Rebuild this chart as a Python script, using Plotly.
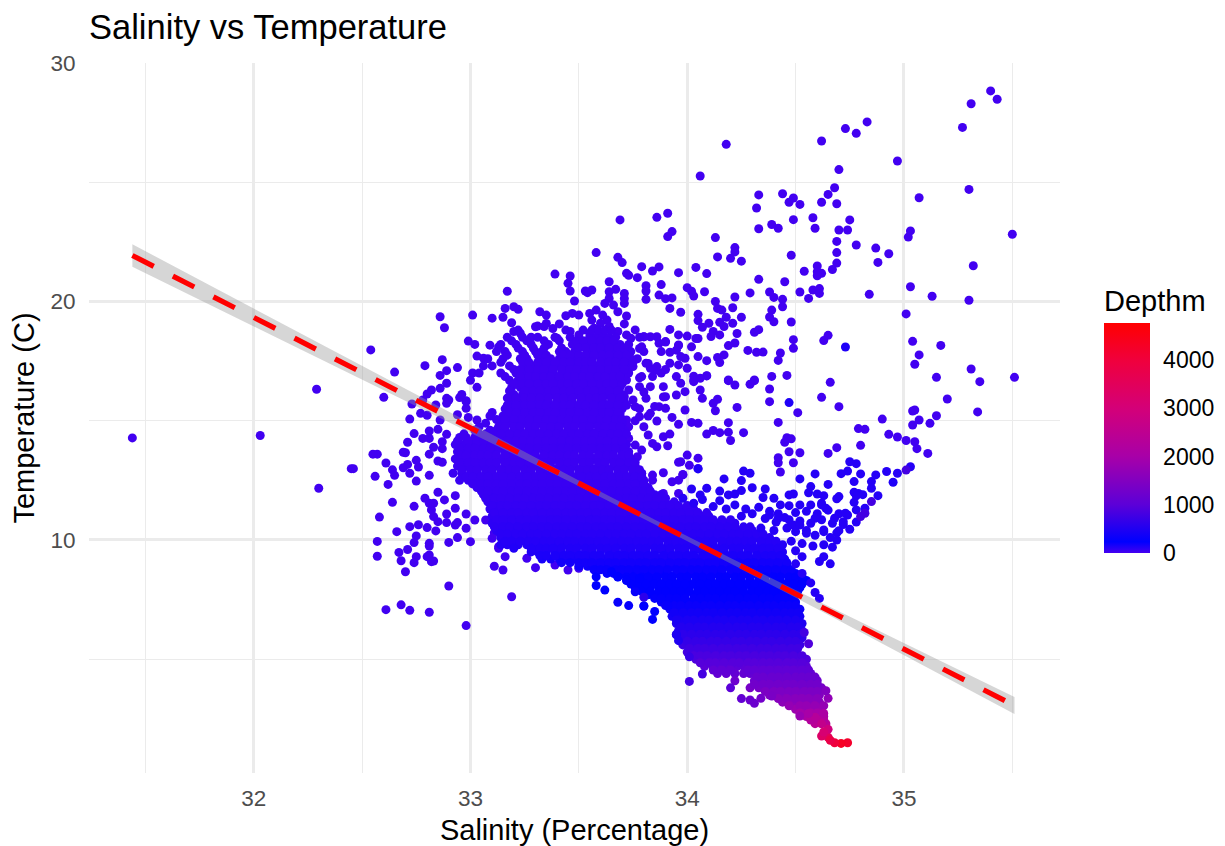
import plotly.graph_objects as go

TITLE = "Salinity vs Temperature"
X_TITLE = "Salinity (Percentage)"
Y_TITLE = "Temperature (C)"
CB_TITLE = "Depthm"
depth_ticks = [0, 1000, 2000, 3000, 4000]
depth_max = 4770

# scattered warm surface points (salinity, temperature)
warm_points = [
(34.18,26.59),(34.06,25.26),(34.62,26.73),(34.73,27.25),(34.78,27.05),(34.83,27.53),(35.40,28.83),(35.43,28.48),(35.31,28.29),(35.27,27.30),
(34.97,25.89),(34.70,25.53),(35.30,24.70),(35.07,24.35),(35.50,22.82),(34.68,24.77),(34.65,24.49),(34.62,24.16),(34.69,24.10),(34.33,24.47),
(34.32,23.92),(34.44,24.52),(34.49,24.34),(34.47,24.16),(34.52,24.07),(34.49,23.43),(34.58,23.51),(34.59,23.07),(34.33,23.05),(34.39,23.23),
(34.42,23.07),(34.75,23.42),(34.70,23.0),(34.74,23.0),(34.69,22.52),(34.78,22.37),(34.69,22.05),(34.69,21.61),(34.67,21.34),(34.87,22.24),
(34.93,22.0),(34.88,21.64),(35.03,22.96),(35.02,22.70),(35.32,21.50),(34.48,21.94),(34.13,22.68),(34.14,21.87),(34.22,22.26),(34.22,22.08),
(34.20,21.81),(34.25,21.69),(33.86,23.53),(33.91,23.70),(33.93,22.93),(33.91,22.72),(33.79,21.46),(33.84,21.28),(33.87,21.45),(33.96,21.21),
(34.04,21.43),(34.09,21.17),(34.60,21.49),(34.60,21.25),(34.62,21.18),(34.60,21.08),(34.54,21.27),(34.33,20.93),(34.45,20.83),(35.03,20.62),
(35.13,20.22),(35.30,20.05),(34.84,20.30),(34.52,20.40),(34.58,20.48),(34.61,20.54),(34.61,20.34),(34.56,20.13),(34.29,20.36),(34.38,20.40),
(34.40,20.17),(34.44,20.09),(34.44,19.78),(34.39,19.64),(34.38,19.35),(34.40,19.15),(34.48,19.14),(35.01,19.48),(34.22,20.19),(34.21,19.74),
(34.25,19.34),(34.13,20.0),(34.14,19.71),(34.16,19.64),(34.18,19.34),(34.21,19.09),(34.17,18.95),(34.15,19.13),(34.10,19.09),(34.07,18.92),
(34.05,19.46),(34.05,19.2),(33.97,19.55),(33.92,19.71),(33.88,20.71),(33.81,20.66),(33.81,20.44),(33.81,20.09),(33.87,20.27),(33.90,20.12),
(33.93,20.15),(34.0,20.58),(34.02,20.43),(34.03,20.23),(34.08,20.41),(33.92,18.83),(34.31,18.71),(34.33,18.82),(34.23,18.66),(34.49,18.40),
(34.49,18.04),(34.63,18.36),(34.65,18.58),(35.04,18.33),(35.17,18.16),(35.07,17.76),(35.05,17.37),(35.31,17.17),(35.15,16.82),(35.51,16.82),
(35.35,16.64),(34.46,16.9),(34.39,16.86),(34.31,16.71),(34.19,16.71),(34.28,17.95),(34.32,17.87),(34.35,17.88),(34.43,17.84),(34.42,17.53),
(34.22,18.26),(34.19,18.15),(34.17,17.76),(34.14,17.65),(34.15,17.44),(34.09,17.52),(34.15,18.6),(34.12,18.74),(34.11,18.53),(34.05,18.45),
(34.0,18.55),(33.96,18.6),(34.02,18.1),(33.96,18.15),(33.92,17.87),(33.88,17.9),(34.05,17.69),(33.99,17.62),(33.96,17.34),(34.0,17.2),
(33.87,18.25),(33.90,18.32),(33.86,18.52),(33.83,18.52),(33.80,18.52),(33.79,18.1),(34.03,16.87),(34.09,16.89),(33.85,17.1),(33.88,17.0),
(33.9,17.15),(33.83,17.2),(33.69,23.42),(33.58,22.05),(33.68,21.85),(33.70,21.63),(33.39,21.15),(33.46,21.07),(33.45,20.76),(33.46,20.44),
(33.17,20.43),(33.53,20.44),(33.54,20.37),(33.56,20.48),(33.64,20.83),(33.67,20.51),(33.64,20.41),(33.64,20.13),(33.62,19.92),(33.66,19.85),
(33.68,19.57),(33.71,20.34),(33.71,20.13),(33.71,19.92),(33.72,21.18),(33.73,21.1),(33.77,21.0),(33.48,20.02),(33.32,19.57),(33.35,19.43),
(33.2,19.78),(33.22,19.67),(33.16,19.71),(33.1,19.3),(33.15,19.34),(33.19,19.11),(33.31,18.97),(33.34,18.95),(33.38,18.87),(33.41,19.06),
(33.44,19.4),(33.47,19.5),(33.5,19.43),(33.58,19.64),(33.55,19.5),(33.61,19.43),(33.63,19.22),(33.56,19.22),(33.6,19.09),(33.55,18.67),
(33.6,18.67),(33.64,18.95),(33.57,18.88),(33.72,19.39),(33.71,19.06),(33.68,18.74),(33.66,18.39),(33.76,18.81),(33.72,18.6),(33.74,18.46),
(33.2,18.74),(33.23,18.67),(33.28,18.5),(33.4,18.46),(33.46,18.74),(33.5,18.6),(33.8,18.52),(33.9,18.3),(33.96,18.18),(34.04,18.45),
(33.01,19.43),(32.88,18.9),(32.86,19.36),(33.3,18.94),(33.35,19.08),(33.09,18.17),(33.13,18.1),(33.06,17.62),(33.03,17.71),(33.78,18.03),
(33.95,17.96),(33.97,17.69),(32.99,18.34),(33.02,18.2),
]

# scattered points of the mid-temperature cloud
mid_points = [
(34.09,16.88),(34.06,16.78),(34.03,16.64),(34.06,16.29),(34.07,15.94),(34.14,15.9),(34.12,15.73),(34.13,15.42),(34.23,15.56),(34.19,16.68),
(34.22,16.5),(34.29,16.53),(34.31,16.68),(34.38,16.33),(34.38,15.8),(34.51,15.34),(34.66,16.61),(34.62,15.98),(34.70,15.59),(33.99,15.45),
(34.02,14.93),(34.05,14.89),(34.19,14.92),(34.09,14.44),(34.12,14.59),(34.15,14.5),(34.19,14.52),(34.20,14.17),(34.26,14.5),(34.42,14.93),
(34.46,14.29),(34.48,14.24),(34.45,14.1),(34.47,13.7),(34.52,13.66),(34.42,13.45),(34.42,13.24),(34.49,13.24),(34.43,12.85),(34.90,15.07),
(34.79,14.67),(34.82,14.64),(34.80,13.97),(34.69,13.87),(34.65,13.63),(34.93,14.43),(34.97,14.32),(35.01,14.17),(35.05,14.12),(35.06,13.83),
(35.11,13.63),(35.04,15.41),(35.05,15.45),(35.07,15.03),(35.04,14.82),(35.12,14.89),(35.15,15.21),(35.34,15.37),(35.20,15.91),
(34.0,13.56),(34.01,13.13),(33.97,13.28),(34.05,13.43),(33.98,12.73),
(32.54,17.97),(32.65,17.04),(32.60,15.98),(32.45,12.99),(32.79,17.31),(32.87,17.56),(32.94,17.23),(32.89,17.1),(32.86,16.9),(32.89,16.57),
(32.86,16.36),(32.82,16.29),(32.80,16.12),(32.78,15.87),(32.73,15.7),(32.84,15.66),(32.89,15.94),(32.90,15.87),(32.89,15.73),(32.95,15.97),
(32.98,15.84),(32.98,15.52),(32.77,15.31),(32.80,15.23),(32.72,15.07),(32.86,15.03),(32.94,15.25),(32.99,15.14),(33.03,15.03),(32.74,14.46),
(32.85,14.64),(32.81,14.57),(32.78,14.26),(32.81,14.26),(32.89,14.43),(32.71,14.1),(32.87,14.12),(32.83,13.89),(32.87,13.83),(32.69,13.68),
(32.70,13.66),(32.57,13.6),(32.81,13.6),(32.85,13.31),(32.87,13.26),(32.61,13.23),(32.75,13.34),(32.71,13.17),(32.76,13.06),(32.69,13.03),
(32.64,12.94),(32.65,12.71),(32.72,12.8),(32.56,12.67),(32.75,12.47),(32.81,12.71),(32.62,12.33),(32.64,11.58),(32.74,11.41),(32.79,11.75),
(32.58,10.96),(32.66,10.35),(32.72,10.56),(32.76,10.64),(32.57,9.94),(32.57,9.32),(32.75,10.17),(32.74,9.89),(32.71,9.6),(32.67,9.48),
(32.68,9.13),(32.70,8.67),(32.75,9.3),(32.74,9.05),(32.80,9.3),(32.81,9.37),(32.82,9.09),(32.83,9.12),(32.81,9.86),(32.81,9.75),
(32.90,8.07),(32.61,7.08),(32.68,7.28),(32.72,7.05),(32.81,6.97),(32.98,6.41),(32.90,9.9),(32.94,10.1),(33.0,9.93),(32.98,10.49),
(32.80,10.52),(32.84,10.38),(32.89,11.09),(32.82,11.26),(32.81,11.54),(32.83,11.54),(32.83,10.98),(32.85,10.77),(32.89,10.73),(32.93,10.63),
(32.94,10.73),(32.98,11.09),(33.02,10.84),(33.07,10.84),(32.93,11.33),(32.93,11.86),(32.88,11.68),(32.85,12.0),(33.1,10.07),(33.11,10.3),
(33.11,8.9),(33.13,9.65),(33.13,9.72),(33.16,9.3),(33.15,8.74),(33.19,7.62),(33.26,9.23),(33.3,8.84),(33.39,8.95),(33.45,8.74),
(33.5,8.81),(31.44,14.28),(32.03,14.38),(32.30,12.17),(32.29,16.32),(32.55,13.6),(32.46,12.99),
(33.82,14.4),(33.84,14.05),(33.86,13.91),(33.89,14.33),(33.92,14.44),(33.91,13.95),(33.96,13.26),(33.98,12.75),(34.05,13.0),(33.93,12.44),
(33.89,12.82),(33.84,12.72),(33.76,13.98),(33.79,13.77),(33.77,13.49),(33.73,14.26),(33.86,14.99),(33.93,15.14),(33.96,14.85),(33.9,15.52),
(33.9,16.01),(33.89,16.43),(33.95,16.85),(33.97,16.57),(33.99,16.22),(34.03,16.71),(33.85,15.6),(33.82,15.2),(33.8,16.2),(33.78,16.8),
(33.82,17.4),(33.78,15.5),(33.76,15.0),(33.8,14.75),
(33.81,17.41),(33.86,17.27),(33.92,17.41),(33.75,17.27),(33.79,16.85),(33.84,16.85),(33.73,16.29),(33.78,16.43),(33.83,16.43),(33.89,16.0),
(33.95,16.08),(33.75,15.87),(33.81,15.94),(33.87,15.59),(33.72,16.71),(33.71,16.01),(33.69,15.31),(33.72,15.03),(33.69,14.61),(33.73,14.75),
(33.78,15.17),(33.76,15.59),(33.83,15.31),(33.84,12.51),(33.79,12.79),(33.74,13.07),(33.79,12.23),(33.89,11.95),(33.96,11.95),(33.96,12.51),
]

# blue wing on the right side of the cloud
wing_points = [
(34.52,12.56),(34.59,12.77),(34.75,13.28),(34.78,13.2),(34.74,12.89),(34.71,12.78),(34.80,12.77),(34.92,12.87),(34.97,12.8),(35.03,13.07),
(34.87,12.73),(34.85,12.45),(34.77,12.45),(34.65,12.33),(34.57,12.24),(34.85,12.17),(34.88,11.86),(34.82,11.33),(34.77,11.58),(34.78,11.26),
(34.77,12.0),(34.79,11.95),(34.81,11.9),(34.78,11.85),(34.70,11.82),(34.69,11.73),(34.63,11.86),(34.60,11.93),(34.56,11.98),(34.49,11.93),
(34.47,11.89),(34.40,11.75),(34.36,12.14),(34.35,11.78),(34.30,12.19),(34.25,12.49),(34.26,12.89),(34.29,12.8),(34.25,12.07),(34.17,12.56),
(34.09,12.17),(34.02,12.14),(34.15,12.05),(34.06,11.89),(34.19,11.89),(34.22,11.93),(34.15,11.65),(34.22,11.47),(34.43,11.47),(34.47,11.44),
(34.33,11.37),(34.52,11.47),(34.57,11.47),(34.62,11.54),(33.98,11.75),(34.03,11.54),(34.07,11.7),(34.12,11.4),(34.18,11.3),(34.27,11.3),
(34.38,11.2),(34.42,11.1),(34.3,11.1),(34.25,11.0),(34.5,11.15),(34.55,11.2),(34.6,11.1),(34.65,11.25),(34.7,11.1),(34.74,11.05),
(34.36,10.9),(34.41,10.75),(34.47,10.85),(34.52,10.8),(34.57,10.7),(34.62,10.85),(34.67,10.7),(34.72,10.65),(34.78,10.75),(34.34,10.5),
(34.4,10.4),(34.46,10.5),(34.5,10.35),(34.55,10.4),(34.59,10.2),(34.63,10.35),(34.69,10.3),(34.75,10.45),(34.48,9.95),(34.53,9.85),
(34.58,9.75),(34.63,9.8),(34.67,9.7),(34.69,10.0),(34.66,10.1),(34.5,9.55),(34.53,9.3),(34.61,9.1),(34.63,9.3),(34.66,9.0),
(34.5,9.0),(34.53,8.6),(34.57,8.2),(34.59,7.8),(34.61,7.55),
(34.38,11.05),(34.42,10.91),(34.45,10.94),(34.49,10.63),(34.52,10.63),(34.55,10.28),(34.59,10.91),(34.62,11.47),(34.64,11.33),(34.68,10.91),
(34.72,10.77),(34.73,11.12),(34.63,10.42),(34.70,10.39),
]

# odd deeper or bluer single points (salinity, temperature)
bluer_points = [(34.47,15.76),(34.73,18.09),(34.05,12.98),(34.95,12.42)]
purple_points = [(35.01,12.93),(34.85,11.61),(34.82,11.12),(34.80,10.98)]

# lower edge of the cloud (salinity, temperature, depth)
edge_points = [
(33.58,8.46,230),(33.58,8.09,240),(33.62,7.9,240),(33.68,7.39,300),(33.73,7.25,280),(33.8,7.23,320),(33.84,6.67,240),(33.8,7.6,600),(33.76,7.83,300),
(33.65,8.67,240),(33.68,8.46,240),(33.72,8.32,240),(33.78,8.39,240),(33.91,7.25,300),(33.95,6.02,500),(33.95,6.65,450),(33.85,7.0,240),(33.8,7.23,240),
(34.01,4.07,800),(34.07,4.38,800),(34.01,5.1,700),(34.2,3.8,1000),(34.25,3.35,1100),(34.29,3.29,1200),(34.31,3.15,1200),(34.34,3.36,1300),(34.39,3.46,1400),
(34.52,2.62,1800),(34.65,3.36,1700),(34.64,3.68,1500),(34.56,5.65,900),(34.54,6.12,800),(33.96,5.78,500),(33.95,6.05,480),
(34.74,1.5,4200),(34.71,1.47,4300),(34.68,1.5,4000),(34.65,1.73,3500),(34.62,1.78,3300),(34.65,2.06,2900),(34.62,2.29,2600),(34.59,2.57,2300),(34.63,2.73,2100),(34.56,2.73,2000),
(34.66,1.6,3800),(34.63,1.95,3100),
]

# dense body of the cloud: (temperature, depth, salinities along that band)
body_rows = [
(18.5,20,[33.17,33.24,33.31,33.39,33.46,33.55,33.58,33.61,33.64,33.67,33.78]),
(18.2,20,[33.14,33.21,33.28,33.36,33.47,33.51,33.54,33.58,33.62,33.65,33.69,33.73]),
(17.9,20,[33.12,33.16,33.24,33.3,33.33,33.41,33.44,33.48,33.55,33.59,33.62,33.66,33.7,33.74,33.8]),
(17.6,20,[33.08,33.15,33.23,33.26,33.34,33.37,33.41,33.45,33.48,33.52,33.56,33.6,33.63,33.67,33.7,33.74,33.77]),
(17.3,20,[33.06,33.1,33.18,33.25,33.29,33.33,33.36,33.4,33.44,33.47,33.51,33.54,33.58,33.62,33.65,33.69,33.72]),
(17.0,20,[33.01,33.04,33.14,33.21,33.24,33.28,33.31,33.35,33.38,33.42,33.45,33.49,33.52,33.56,33.59,33.63,33.66,33.7,33.73]),
(16.7,22,[33.0,33.18,33.22,33.25,33.29,33.32,33.36,33.4,33.43,33.47,33.5,33.54,33.57,33.61,33.64,33.68,33.71]),
(16.4,22,[33.03,33.19,33.23,33.27,33.3,33.34,33.37,33.41,33.44,33.48,33.51,33.55,33.59,33.62,33.66,33.69]),
(16.1,22,[32.96,33.2,33.24,33.27,33.31,33.35,33.38,33.42,33.45,33.49,33.53,33.56,33.6,33.63,33.67,33.7]),
(15.8,25,[32.98,33.18,33.22,33.26,33.29,33.33,33.36,33.4,33.44,33.47,33.51,33.54,33.58,33.61,33.65,33.68,33.71]),
(15.5,25,[33.16,33.19,33.23,33.27,33.3,33.34,33.38,33.41,33.45,33.48,33.52,33.56,33.59,33.63,33.66,33.7]),
(15.2,25,[33.09,33.15,33.19,33.22,33.26,33.3,33.33,33.37,33.4,33.44,33.47,33.51,33.55,33.58,33.62,33.65,33.69]),
(14.9,25,[33.07,33.14,33.18,33.21,33.25,33.29,33.32,33.36,33.39,33.43,33.46,33.5,33.54,33.57,33.61,33.64,33.68,33.7]),
(14.6,25,[33.02,33.09,33.12,33.16,33.2,33.23,33.27,33.3,33.34,33.38,33.41,33.45,33.48,33.52,33.55,33.59,33.63,33.66,33.71]),
(14.3,28,[32.95,32.98,33.02,33.06,33.09,33.13,33.16,33.2,33.24,33.27,33.31,33.34,33.38,33.41,33.45,33.49,33.52,33.56,33.59,33.63,33.66,33.7]),
(14.0,30,[32.93,32.97,33.0,33.04,33.07,33.11,33.15,33.18,33.22,33.25,33.29,33.32,33.36,33.4,33.43,33.47,33.5,33.54,33.58,33.61,33.65,33.68,33.72]),
(13.7,30,[32.94,32.98,33.01,33.05,33.09,33.12,33.16,33.19,33.23,33.27,33.3,33.34,33.37,33.41,33.44,33.48,33.52,33.55,33.59,33.62,33.66,33.7,33.73]),
(13.4,32,[32.93,32.96,33.0,33.03,33.07,33.1,33.14,33.18,33.21,33.25,33.28,33.32,33.36,33.39,33.43,33.46,33.5,33.53,33.57,33.61,33.64,33.68,33.71,33.74]),
(13.1,35,[32.94,32.98,33.01,33.05,33.09,33.12,33.16,33.19,33.23,33.26,33.3,33.34,33.37,33.41,33.44,33.48,33.52,33.55,33.59,33.62,33.66,33.7,33.73,33.76]),
(12.8,38,[32.92,32.96,33.0,33.03,33.07,33.1,33.14,33.17,33.21,33.25,33.28,33.32,33.35,33.39,33.43,33.46,33.5,33.53,33.57,33.6,33.64,33.68,33.71,33.75,33.79]),
(12.5,42,[32.95,32.99,33.02,33.06,33.09,33.13,33.16,33.2,33.24,33.27,33.31,33.34,33.38,33.42,33.45,33.49,33.52,33.56,33.59,33.63,33.67,33.7,33.74,33.77,33.8]),
(12.2,45,[33.03,33.07,33.1,33.14,33.17,33.21,33.25,33.28,33.32,33.35,33.39,33.42,33.46,33.5,33.53,33.57,33.6,33.64,33.68,33.71,33.75,33.78,33.82]),
(11.9,50,[33.06,33.09,33.13,33.16,33.2,33.24,33.27,33.31,33.34,33.38,33.42,33.45,33.49,33.52,33.56,33.59,33.63,33.67,33.7,33.74,33.77,33.81,33.85,33.88]),
(11.6,55,[33.08,33.12,33.15,33.19,33.22,33.26,33.3,33.33,33.37,33.4,33.44,33.47,33.51,33.55,33.58,33.62,33.65,33.69,33.73,33.76,33.8,33.83,33.87,33.9,33.94]),
(11.3,60,[33.09,33.13,33.17,33.2,33.24,33.27,33.31,33.34,33.38,33.42,33.45,33.49,33.52,33.56,33.6,33.63,33.67,33.7,33.74,33.77,33.81,33.85,33.88,33.92,33.95,33.99,34.03]),
(11.0,70,[33.1,33.14,33.17,33.21,33.25,33.28,33.32,33.35,33.39,33.42,33.46,33.5,33.53,33.57,33.6,33.64,33.67,33.71,33.75,33.78,33.82,33.85,33.89,33.93,33.96,34.0,34.03,34.07,34.1]),
(10.7,80,[33.1,33.13,33.17,33.2,33.24,33.28,33.31,33.35,33.38,33.42,33.45,33.49,33.53,33.56,33.6,33.63,33.67,33.71,33.74,33.78,33.81,33.85,33.88,33.92,33.96,33.99,34.03,34.06,34.1,34.14,34.18,34.22]),
(10.4,90,[33.12,33.16,33.19,33.23,33.26,33.3,33.34,33.37,33.41,33.44,33.48,33.51,33.55,33.59,33.62,33.66,33.69,33.73,33.77,33.8,33.84,33.87,33.91,33.94,33.98,34.02,34.05,34.09,34.12,34.16,34.2,34.23,34.27,34.3]),
(10.1,100,[33.14,33.18,33.21,33.25,33.28,33.32,33.36,33.39,33.43,33.46,33.5,33.53,33.57,33.61,33.64,33.68,33.71,33.75,33.78,33.82,33.86,33.89,33.93,33.96,34.0,34.04,34.07,34.11,34.14,34.18,34.21,34.25,34.29,34.32,34.35,34.38]),
(9.8,115,[33.14,33.17,33.22,33.26,33.3,33.33,33.37,33.4,33.44,33.48,33.51,33.55,33.58,33.62,33.65,33.69,33.73,33.76,33.8,33.83,33.87,33.91,33.94,33.98,34.01,34.05,34.08,34.12,34.16,34.19,34.23,34.26,34.3,34.34,34.37,34.41,34.44]),
(9.5,130,[33.28,33.31,33.35,33.39,33.42,33.46,33.49,33.53,33.56,33.6,33.64,33.67,33.71,33.74,33.78,33.81,33.85,33.89,33.92,33.96,33.99,34.03,34.07,34.1,34.14,34.17,34.21,34.24,34.28,34.32,34.35,34.39,34.42,34.44]),
(9.2,155,[33.33,33.37,33.41,33.44,33.48,33.51,33.55,33.58,33.62,33.66,33.69,33.73,33.76,33.8,33.83,33.87,33.91,33.94,33.98,34.01,34.05,34.09,34.12,34.16,34.19,34.23,34.26,34.3,34.34,34.37,34.41,34.45]),
(8.9,185,[33.5,33.54,33.57,33.61,33.65,33.68,33.72,33.75,33.79,33.82,33.86,33.9,33.93,33.97,34.0,34.04,34.07,34.11,34.15,34.18,34.22,34.25,34.29,34.33,34.36,34.4,34.43,34.46]),
(8.6,215,[33.63,33.66,33.7,33.74,33.77,33.81,33.84,33.88,33.91,33.95,33.99,34.02,34.06,34.09,34.13,34.16,34.2,34.24,34.27,34.31,34.34,34.38,34.42,34.45,34.48,34.5]),
(8.3,235,[33.72,33.75,33.79,33.83,33.86,33.9,33.93,33.97,34.0,34.04,34.08,34.11,34.15,34.18,34.22,34.25,34.29,34.33,34.36,34.4,34.43,34.47,34.51,34.55]),
(8.0,240,[33.76,33.8,33.83,33.87,33.91,33.94,33.98,34.01,34.05,34.09,34.12,34.16,34.19,34.23,34.26,34.3,34.34,34.37,34.41,34.44,34.48,34.52]),
(7.7,250,[33.82,33.85,33.89,33.92,33.96,33.99,34.03,34.07,34.1,34.14,34.17,34.21,34.25,34.28,34.32,34.35,34.39,34.42,34.46,34.5]),
(7.4,290,[33.88,33.91,33.95,33.98,34.02,34.05,34.09,34.13,34.16,34.2,34.23,34.27,34.3,34.34,34.38,34.41,34.45,34.48,34.5]),
(7.1,350,[33.92,33.96,34.0,34.03,34.07,34.1,34.14,34.17,34.21,34.25,34.28,34.32,34.35,34.39,34.43,34.46,34.49,34.52]),
(6.8,420,[33.93,33.97,34.0,34.04,34.08,34.11,34.15,34.18,34.22,34.25,34.29,34.33,34.36,34.4,34.43,34.47,34.5,34.52]),
(6.5,490,[33.95,33.98,34.02,34.06,34.09,34.13,34.16,34.2,34.24,34.27,34.31,34.34,34.38,34.41,34.45,34.49,34.53]),
(6.2,560,[33.96,34.0,34.04,34.07,34.11,34.14,34.18,34.21,34.25,34.29,34.32,34.36,34.39,34.43,34.46,34.5,34.53]),
(5.9,640,[33.97,34.01,34.05,34.08,34.12,34.15,34.19,34.23,34.26,34.3,34.33,34.37,34.4,34.44,34.48,34.51,34.53]),
(5.6,720,[33.98,34.02,34.06,34.09,34.13,34.17,34.2,34.24,34.27,34.31,34.34,34.38,34.42,34.45,34.49,34.52]),
(5.3,800,[34.0,34.04,34.07,34.11,34.14,34.18,34.22,34.25,34.29,34.32,34.36,34.39,34.43,34.47,34.5]),
(5.0,900,[34.04,34.08,34.11,34.15,34.19,34.22,34.26,34.29,34.33,34.37,34.4,34.44,34.47,34.51,34.55]),
(4.7,1000,[34.08,34.12,34.15,34.19,34.23,34.26,34.3,34.33,34.37,34.4,34.44,34.48,34.51,34.55]),
(4.4,1100,[34.14,34.18,34.22,34.26,34.29,34.33,34.36,34.4,34.44,34.47,34.51,34.54,34.57]),
(4.1,1220,[34.22,34.31,34.34,34.38,34.41,34.45,34.49,34.52,34.56,34.6]),
(3.8,1350,[34.29,34.33,34.37,34.4,34.44,34.47,34.51,34.55,34.58,34.62]),
(3.5,1500,[34.38,34.42,34.45,34.49,34.52,34.56,34.59,34.61]),
(3.2,1650,[34.44,34.48,34.51,34.55,34.58,34.61]),
(2.9,1850,[34.5,34.54,34.57,34.61]),
(2.6,2100,[34.55,34.59,34.63]),
(2.3,2400,[34.59,34.64]),
]

# second pass of the dense body, between the bands above
between_rows = [
(18.8,20,[33.22,33.44,33.52,33.56,33.59,33.62,33.65]),
(18.35,20,[33.19,33.26,33.34,33.41,33.49,33.52,33.56,33.6,33.63,33.66]),
(18.05,20,[33.22,33.29,33.34,33.42,33.5,33.53,33.57,33.6,33.64,33.68,33.71]),
(17.75,20,[33.17,33.25,33.31,33.35,33.43,33.46,33.5,33.53,33.57,33.61,33.64,33.68,33.72]),
(17.45,20,[33.14,33.24,33.27,33.31,33.35,33.39,33.43,33.46,33.5,33.53,33.56,33.6,33.64,33.67,33.71,33.75]),
(17.15,20,[33.2,33.23,33.27,33.31,33.34,33.38,33.42,33.46,33.49,33.53,33.56,33.6,33.64,33.67,33.71]),
(16.85,20,[33.16,33.23,33.27,33.3,33.34,33.37,33.41,33.45,33.48,33.52,33.55,33.59,33.62,33.66,33.69]),
(16.55,22,[33.2,33.24,33.27,33.31,33.35,33.38,33.42,33.45,33.49,33.52,33.56,33.6,33.63,33.66,33.7]),
(16.25,22,[33.18,33.25,33.29,33.32,33.36,33.39,33.43,33.46,33.5,33.54,33.57,33.61,33.64,33.68]),
(15.95,22,[33.17,33.21,33.25,33.28,33.32,33.36,33.4,33.43,33.47,33.51,33.55,33.58,33.61,33.65,33.69]),
(15.65,25,[33.17,33.21,33.25,33.28,33.32,33.35,33.39,33.43,33.46,33.5,33.53,33.57,33.61,33.64,33.68,33.72]),
(15.35,25,[33.1,33.18,33.21,33.25,33.29,33.32,33.36,33.39,33.43,33.46,33.5,33.54,33.57,33.61,33.64,33.68]),
(15.05,25,[33.12,33.16,33.2,33.24,33.27,33.31,33.35,33.38,33.42,33.45,33.49,33.52,33.56,33.6,33.63,33.67,33.7]),
(14.75,25,[33.04,33.13,33.16,33.2,33.23,33.27,33.3,33.34,33.37,33.41,33.45,33.48,33.52,33.55,33.59,33.62,33.66,33.69]),
(14.45,26,[32.97,33.04,33.07,33.11,33.14,33.18,33.22,33.25,33.29,33.32,33.36,33.4,33.43,33.47,33.5,33.54,33.57,33.61,33.65,33.68,33.72]),
(14.15,28,[32.94,32.99,33.03,33.06,33.1,33.14,33.17,33.21,33.24,33.28,33.31,33.35,33.38,33.42,33.46,33.49,33.53,33.56,33.6,33.63,33.67,33.7]),
(13.85,30,[32.95,32.99,33.02,33.06,33.09,33.13,33.17,33.2,33.24,33.27,33.31,33.35,33.38,33.42,33.45,33.49,33.53,33.56,33.6,33.63,33.67,33.71]),
(13.55,32,[32.95,32.98,33.02,33.05,33.08,33.12,33.16,33.2,33.23,33.26,33.3,33.34,33.38,33.41,33.45,33.48,33.52,33.55,33.59,33.63,33.66,33.7,33.73]),
(13.25,34,[32.95,32.99,33.02,33.06,33.09,33.12,33.16,33.2,33.23,33.27,33.3,33.34,33.37,33.41,33.45,33.48,33.52,33.55,33.59,33.62,33.66,33.69,33.73,33.76]),
(12.95,36,[32.96,33.0,33.03,33.07,33.1,33.14,33.18,33.21,33.25,33.28,33.32,33.36,33.39,33.43,33.46,33.5,33.54,33.57,33.61,33.64,33.68,33.71,33.75,33.78]),
(12.65,40,[32.98,33.01,33.05,33.08,33.12,33.15,33.19,33.23,33.26,33.3,33.33,33.37,33.4,33.44,33.47,33.51,33.55,33.58,33.62,33.65,33.69,33.72,33.76,33.79]),
(12.35,44,[33.01,33.05,33.08,33.12,33.15,33.19,33.23,33.26,33.3,33.33,33.37,33.4,33.44,33.48,33.51,33.55,33.58,33.62,33.66,33.69,33.73,33.76,33.8]),
(12.05,48,[33.05,33.08,33.12,33.15,33.19,33.22,33.26,33.3,33.33,33.37,33.4,33.44,33.47,33.51,33.55,33.58,33.62,33.65,33.69,33.72,33.76,33.8,33.83]),
(11.75,52,[33.07,33.11,33.14,33.18,33.22,33.25,33.29,33.32,33.36,33.4,33.43,33.47,33.5,33.54,33.57,33.61,33.65,33.68,33.72,33.75,33.79,33.82,33.86,33.9]),
(11.45,58,[33.1,33.14,33.17,33.21,33.24,33.28,33.32,33.35,33.39,33.42,33.46,33.49,33.53,33.57,33.6,33.64,33.67,33.71,33.75,33.78,33.82,33.85,33.89,33.92,33.96,34.0]),
(11.15,65,[33.11,33.15,33.19,33.22,33.26,33.29,33.33,33.37,33.4,33.44,33.47,33.51,33.54,33.58,33.62,33.65,33.69,33.72,33.76,33.79,33.83,33.87,33.9,33.94,33.97,34.01,34.05,34.09]),
(10.85,75,[33.12,33.15,33.19,33.23,33.26,33.3,33.33,33.37,33.4,33.44,33.48,33.51,33.55,33.58,33.62,33.65,33.69,33.73,33.76,33.8,33.83,33.87,33.9,33.94,33.98,34.01,34.05,34.08,34.12,34.16,34.2]),
(10.55,85,[33.11,33.15,33.18,33.22,33.26,33.29,33.33,33.36,33.4,33.43,33.47,33.51,33.54,33.58,33.61,33.65,33.68,33.72,33.76,33.79,33.83,33.86,33.9,33.93,33.97,34.01,34.04,34.08,34.11,34.15,34.19,34.22,34.26,34.29]),
(10.25,95,[33.14,33.17,33.21,33.24,33.28,33.31,33.35,33.39,33.42,33.46,33.49,33.53,33.56,33.6,33.64,33.67,33.71,33.74,33.78,33.81,33.85,33.89,33.92,33.96,33.99,34.03,34.06,34.1,34.14,34.17,34.21,34.24,34.28,34.32,34.35]),
(9.95,108,[33.16,33.19,33.23,33.27,33.3,33.34,33.37,33.41,33.45,33.48,33.52,33.55,33.59,33.62,33.66,33.7,33.73,33.77,33.8,33.84,33.87,33.91,33.95,33.98,34.02,34.05,34.09,34.12,34.16,34.2,34.23,34.27,34.3,34.34,34.38,34.41]),
(9.65,122,[33.2,33.28,33.32,33.35,33.38,33.42,33.46,33.49,33.53,33.56,33.6,33.63,33.67,33.71,33.74,33.78,33.81,33.85,33.88,33.92,33.96,33.99,34.03,34.06,34.1,34.13,34.17,34.21,34.24,34.28,34.31,34.35,34.38,34.42]),
(9.35,142,[33.32,33.35,33.39,33.43,33.46,33.5,33.53,33.57,33.6,33.64,33.68,33.71,33.75,33.78,33.82,33.85,33.89,33.93,33.96,34.0,34.03,34.07,34.1,34.14,34.18,34.21,34.25,34.28,34.32,34.36,34.39,34.43]),
(9.05,170,[33.42,33.46,33.5,33.53,33.56,33.6,33.64,33.67,33.71,33.74,33.78,33.81,33.85,33.88,33.92,33.96,33.99,34.03,34.06,34.1,34.13,34.17,34.21,34.24,34.28,34.31,34.35,34.38,34.42,34.46]),
(8.75,200,[33.57,33.6,33.63,33.67,33.7,33.73,33.77,33.8,33.84,33.87,33.91,33.95,33.98,34.02,34.05,34.09,34.12,34.16,34.2,34.23,34.27,34.3,34.34,34.37,34.41,34.45,34.48]),
(8.45,225,[33.68,33.72,33.75,33.79,33.82,33.86,33.9,33.93,33.97,34.0,34.04,34.07,34.11,34.15,34.18,34.22,34.25,34.29,34.33,34.36,34.4,34.43,34.47,34.5,34.53]),
(8.15,238,[33.74,33.78,33.81,33.85,33.88,33.92,33.95,33.99,34.03,34.06,34.1,34.13,34.17,34.2,34.24,34.28,34.31,34.35,34.38,34.42,34.46,34.49,34.53]),
(7.85,245,[33.79,33.83,33.87,33.9,33.94,33.97,34.01,34.05,34.08,34.12,34.15,34.19,34.22,34.26,34.3,34.33,34.37,34.4,34.44,34.48,34.51]),
(7.55,270,[33.85,33.88,33.92,33.95,33.99,34.03,34.06,34.1,34.13,34.17,34.2,34.24,34.28,34.31,34.35,34.38,34.42,34.45,34.49]),
(7.25,320,[33.9,33.94,33.97,34.01,34.04,34.08,34.11,34.15,34.19,34.22,34.26,34.29,34.33,34.37,34.4,34.44,34.47,34.5]),
(6.95,385,[33.94,33.98,34.02,34.05,34.09,34.12,34.16,34.2,34.23,34.27,34.3,34.34,34.37,34.41,34.45,34.48,34.51]),
(6.65,455,[33.96,34.0,34.03,34.07,34.1,34.14,34.17,34.21,34.25,34.28,34.32,34.35,34.39,34.42,34.46,34.5]),
(6.35,525,[33.97,34.01,34.05,34.08,34.12,34.15,34.19,34.23,34.26,34.3,34.33,34.37,34.41,34.44,34.48,34.51]),
(6.05,600,[33.98,34.02,34.06,34.09,34.13,34.16,34.2,34.24,34.27,34.31,34.34,34.38,34.41,34.45,34.49,34.52]),
(5.75,680,[34.0,34.04,34.07,34.11,34.14,34.18,34.22,34.25,34.29,34.32,34.36,34.39,34.43,34.47,34.5]),
(5.45,760,[34.01,34.05,34.08,34.12,34.16,34.19,34.23,34.26,34.3,34.34,34.37,34.41,34.44,34.48,34.51]),
(5.15,850,[34.03,34.06,34.09,34.13,34.17,34.2,34.24,34.27,34.31,34.35,34.38,34.42,34.45,34.49,34.53]),
(4.85,950,[34.06,34.1,34.13,34.17,34.21,34.24,34.28,34.31,34.35,34.38,34.42,34.46,34.49,34.53]),
(4.55,1050,[34.12,34.16,34.2,34.28,34.31,34.35,34.38,34.42,34.46,34.49,34.53,34.56]),
(4.25,1160,[34.32,34.35,34.39,34.42,34.46,34.5,34.53,34.56,34.59]),
(3.95,1280,[34.31,34.35,34.38,34.42,34.46,34.49,34.53,34.57,34.6]),
(3.65,1420,[34.36,34.4,34.43,34.47,34.5,34.54,34.57,34.6]),
(3.35,1570,[34.42,34.46,34.5,34.53,34.56,34.6]),
(3.05,1750,[34.47,34.52,34.55,34.59,34.63]),
(2.75,1970,[34.52,34.57,34.6]),
(2.45,2250,[34.57,34.61,34.63]),
]

# least-squares fit
fit_sal =   [31.44,31.95,32.46,32.97,33.48,33.86,34.2,34.6,35.05,35.51]
fit_temp =  [21.93,19.57,17.2,14.83,12.47,10.71,9.13,7.28,5.19,3.06]
fit_half =  [0.47,0.38,0.29,0.2,0.12,0.1,0.12,0.17,0.26,0.36]

# depth -> colour stops
color_stops = [(0,"#4500f0"),(0.049,"#0000ff"),(0.21,"#5c00d8"),(0.42,"#a800a8"),(0.63,"#d40078"),(0.84,"#f0003c"),(1,"#ff0000")]

sal, temp, depth = [], [], []
def add(points, d):
    for s, t in points:
        sal.append(s); temp.append(t); depth.append(d)
add(warm_points, 10)
add(mid_points, 15)
for rows in (body_rows, between_rows):
    for t, d, row in rows:
        for s in row:
            sal.append(s); temp.append(t); depth.append(d)
add(wing_points, 110)
add(bluer_points, 130)
add(purple_points, 800)
for s, t, d in edge_points:
    sal.append(s); temp.append(t); depth.append(d)

# the page body has an 8px margin, so the figure box starts at (8, 8)
OFF = 8
W, H = 1225-OFF, 846-OFF
L, R, T, B = 89-OFF, 1060-OFF, 63-OFF, 773-OFF
cb_left, cb_w, cb_top, cb_bot = 1104-OFF, 46, 323-OFF, 553-OFF
CB_TITLE_H = 37

fig = go.Figure()
fig.add_trace(go.Scatter(x=sal, y=temp, mode="markers", showlegend=False, hoverinfo="skip",
    marker=dict(size=9, color=depth, cmin=0, cmax=depth_max, colorscale=[list(c) for c in color_stops], line=dict(width=0),
        colorbar=dict(title=dict(text=CB_TITLE, side="top", font=dict(size=29, color="#000000", family="Liberation Sans")),
            thickness=cb_w, thicknessmode="pixels", len=cb_bot-cb_top+CB_TITLE_H, lenmode="pixels",
            x=(cb_left-L)/(R-L), xanchor="left", y=(B-cb_bot)/(B-T), yanchor="bottom", xpad=0, ypad=0,
            outlinewidth=0, borderwidth=0, tickvals=depth_ticks, ticks="outside", ticklen=9, tickwidth=1, tickcolor="rgba(0,0,0,0)",
            tickfont=dict(size=23, color="#000000", family="Liberation Sans")))))
upper = [a+b for a, b in zip(fit_temp, fit_half)]
lower = [a-b for a, b in zip(fit_temp, fit_half)]
fig.add_trace(go.Scatter(x=fit_sal+fit_sal[::-1], y=upper+lower[::-1], mode="lines", fill="toself",
    fillcolor="rgba(153,153,153,0.4)", line=dict(width=0), showlegend=False, hoverinfo="skip"))
fig.add_trace(go.Scatter(x=fit_sal, y=fit_temp, mode="lines", line=dict(color="#ff0000", width=5.2, dash="24px,21.5px"), showlegend=False, hoverinfo="skip"))

shapes = []
for v in depth_ticks:
    yp = (B-cb_bot + (cb_bot-cb_top)*v/depth_max)/(B-T)
    for x0, x1 in ((cb_left, cb_left+9), (cb_left+cb_w-9, cb_left+cb_w)):
        shapes.append(dict(type="line", xref="paper", yref="paper", x0=(x0-L)/(R-L), x1=(x1-L)/(R-L), y0=yp, y1=yp,
                           line=dict(color="rgba(255,255,255,0.8)", width=1.2)))

GRID = "#ebebeb"
fig.update_layout(width=W, height=H, autosize=False, margin=dict(l=L, r=W-R, t=T, b=H-B, autoexpand=False),
    paper_bgcolor="#ffffff", plot_bgcolor="#ffffff", shapes=shapes,
    font=dict(family="Liberation Sans"),
    title=dict(text=TITLE, x=L/W, xanchor="left", y=1-31/H, yanchor="bottom", font=dict(size=34.5, color="#000000"), pad=dict(b=0)),
    xaxis=dict(range=[31.24,35.72], tickmode="array", tickvals=[32,33,34,35], showgrid=True, gridcolor=GRID, gridwidth=2.8, zeroline=False,
        minor=dict(tickmode="array", tickvals=[31.5,32.5,33.5,34.5,35.5], showgrid=True, gridcolor=GRID, gridwidth=1.4, ticks=""),
        ticks="outside", ticklen=5, tickcolor="rgba(0,0,0,0)", tickfont=dict(size=22.5, color="#4d4d4d"),
        title=dict(text=X_TITLE, standoff=9, font=dict(size=29, color="#000000")), showline=False),
    yaxis=dict(range=[0.23,30], tickmode="array", tickvals=[10,20,30], showgrid=True, gridcolor=GRID, gridwidth=2.8, zeroline=False,
        minor=dict(tickmode="array", tickvals=[5,15,25], showgrid=True, gridcolor=GRID, gridwidth=1.4, ticks=""),
        ticks="outside", ticklen=8, tickcolor="rgba(0,0,0,0)", tickfont=dict(size=22.5, color="#4d4d4d"),
        title=dict(text=Y_TITLE, standoff=9, font=dict(size=29, color="#000000")), showline=False))
fig.write_html("out.html")
